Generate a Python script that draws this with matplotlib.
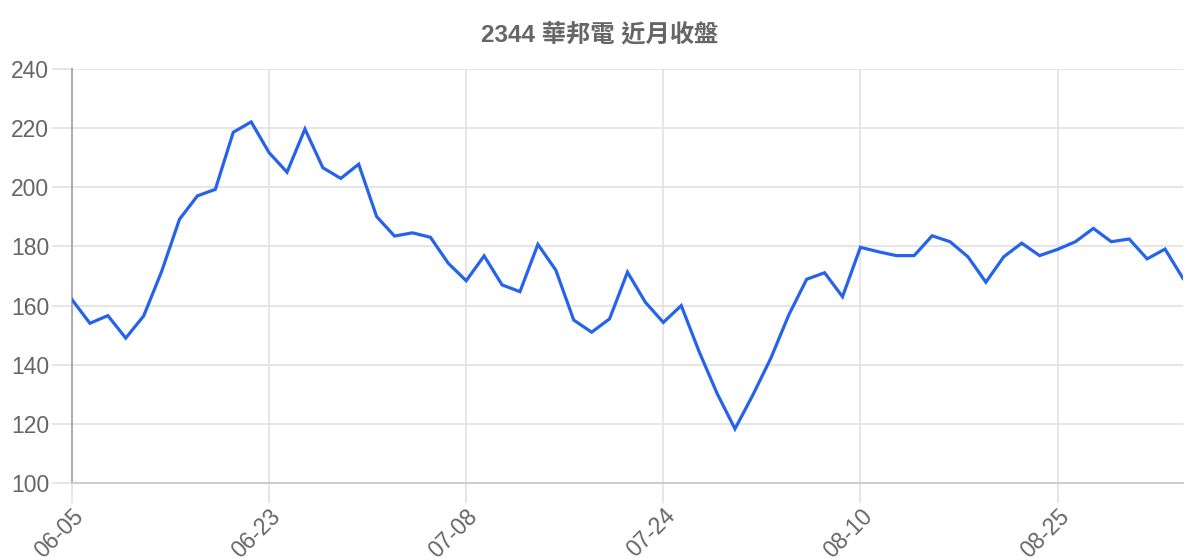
import matplotlib
matplotlib.use("Agg")
import matplotlib.pyplot as plt


TITLE = "2344 華邦電 近月收盤"

# closing prices, one per trading day (63 days)
close_prices = [
    162.0, 154.0, 156.6, 149.0, 156.5, 171.5, 189.2, 197.1, 199.3, 218.6,
    222.1, 211.7, 205.1, 219.7, 206.6, 203.0, 207.8, 190.1, 183.5, 184.6,
    183.1, 174.3, 168.4, 176.8, 167.0, 164.7, 180.7, 172.0, 155.1, 151.0,
    155.5, 171.3, 161.1, 154.3, 160.0, 144.4, 130.3, 118.3, 129.8, 142.2,
    156.8, 168.9, 171.1, 163.0, 179.7, 178.2, 176.9, 176.9, 183.6, 181.6,
    176.5, 167.9, 176.5, 181.1, 176.9, 179.0, 181.6, 186.1, 181.6, 182.5,
    175.8, 179.1, 169.2,
]

# shown date labels, one every 11 trading days
date_labels = ["06-05", "06-23", "07-08", "07-24", "08-10", "08-25"]
label_step = 11

y_ticks = [100, 120, 140, 160, 180, 200, 220, 240]

TEXT_COLOR = "#666666"
GRID_COLOR = "#e2e2e2"
LINE_COLOR = "#2563eb"
FONTS = ["Liberation Sans", "Noto Sans CJK TC", "DejaVu Sans"]

plt.rcParams["font.family"] = FONTS

fig = plt.figure(figsize=(12, 5.6), dpi=100)
ax = fig.add_axes([0.06, 0.1375, 0.9258, 0.7393])

days = list(range(len(close_prices)))
ax.plot(days, close_prices, color=LINE_COLOR, linewidth=2.3,
        solid_joinstyle="miter", zorder=3)

ax.set_xlim(0, len(close_prices) - 1)
ax.set_ylim(100, 240)

ax.set_yticks(y_ticks)
ax.set_yticklabels([str(v) for v in y_ticks])
ax.set_xticks([i * label_step for i in range(len(date_labels))])
ax.set_xticklabels(date_labels, rotation=45, ha="right",
                   rotation_mode="anchor")

ax.grid(True, color=GRID_COLOR, linewidth=1.2)
ax.set_axisbelow(True)

ax.tick_params(axis="both", length=14.5, width=1.2, color=GRID_COLOR,
               labelcolor=TEXT_COLOR, labelsize=16.5)
ax.tick_params(axis="x", pad=1)
ax.tick_params(axis="y", pad=2)

for side in ("top", "right"):
    ax.spines[side].set_visible(False)
ax.spines["left"].set_color("#aaaaaa")
ax.spines["left"].set_linewidth(1.4)
ax.spines["bottom"].set_color("#cccccc")
ax.spines["bottom"].set_linewidth(1.4)

fig.text(0.5, 0.937, TITLE, ha="center", va="center", fontsize=17.5,
         fontweight="bold", color=TEXT_COLOR)

fig.savefig("out.png", dpi=100)
